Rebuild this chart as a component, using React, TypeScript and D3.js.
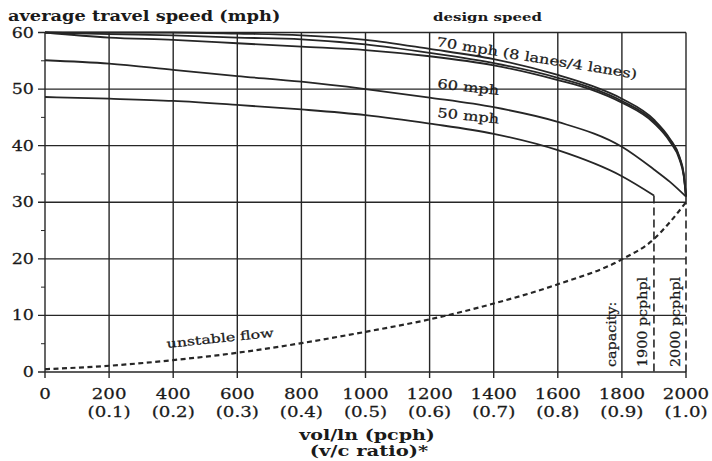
import React from "react";
import * as d3 from "d3";

// Volume per lane (pcph) at which the speed curves are sampled
const VOLUMES = [0, 200, 400, 600, 800, 1000, 1200, 1400, 1600, 1700, 1800, 1900, 1950, 1980, 1993, 2000];

// Average travel speed (mph) for each design speed
const SPEED_70_8LANES = [60, 60, 60, 59.8, 59.5, 58.7, 57.1, 55.3, 52.5, 50.7, 48.3, 44.6, 41.2, 38.0, 35.0, 31];
const SPEED_70_6LANES = [60, 59.7, 59.5, 59.1, 58.8, 57.9, 56.4, 54.6, 52.0, 50.3, 47.9, 44.3, 41.0, 37.8, 34.8, 31];
const SPEED_70_4LANES = [60, 59.1, 58.7, 58.1, 57.5, 56.9, 55.8, 54.2, 51.6, 50.0, 47.6, 44.0, 40.7, 37.5, 34.6, 31];

const VOLUMES_60 = [0, 200, 400, 600, 800, 1000, 1200, 1400, 1600, 1800, 1900, 1950, 2000];
const SPEED_60 = [55.1, 54.5, 53.4, 52.3, 51.3, 50.0, 48.5, 46.8, 44.2, 39.8, 35.8, 33.6, 31];

const VOLUMES_50 = [0, 200, 400, 600, 800, 1000, 1200, 1400, 1600, 1800, 1900];
const SPEED_50 = [48.6, 48.3, 47.9, 47.2, 46.4, 45.4, 43.9, 42.1, 39.2, 34.6, 31.2];

// Unstable (forced) flow branch
const VOLUMES_UNSTABLE = [0, 200, 400, 600, 800, 1000, 1200, 1400, 1600, 1800, 1900, 1950, 2000];
const SPEED_UNSTABLE = [0.5, 1.1, 2.1, 3.4, 5.1, 7.1, 9.3, 12.1, 15.5, 19.9, 23.5, 26.5, 30];

// Axis ticks
const X_TICKS = [0, 200, 400, 600, 800, 1000, 1200, 1400, 1600, 1800, 2000];
const VC_LABELS = ["", "(0.1)", "(0.2)", "(0.3)", "(0.4)", "(0.5)", "(0.6)", "(0.7)", "(0.8)", "(0.9)", "(1.0)"];
const Y_TICKS = [0, 10, 20, 30, 40, 50, 60];
const Y_MINOR = [5, 15, 25, 35, 45, 55];

// Capacity limits (pcphpl)
const CAPACITY_1900 = 1900;
const CAPACITY_2000 = 2000;

const INK = "#262626";
const FONT = "'DejaVu Serif', serif";

type LabelProps = {
  x: number;
  y: number;
  rotate?: number;
  sx?: number;
  size: number;
  bold?: boolean;
  anchor?: "start" | "middle" | "end";
  children: React.ReactNode;
};

// Text with a horizontally widened face
function Label({ x, y, rotate = 0, sx = 1.3, size, bold = false, anchor = "start", children }: LabelProps) {
  return (
    <text
      transform={`translate(${x},${y}) rotate(${rotate}) scale(${sx},1)`}
      fontFamily={FONT}
      fontSize={size}
      fontWeight={bold ? 700 : 400}
      textAnchor={anchor}
      fill="#1a1a1a"
      stroke="#1a1a1a"
      strokeWidth={bold ? 0 : 0.25}
    >
      {children}
    </text>
  );
}

export default function App() {
  const x = d3.scaleLinear().domain([0, 2000]).range([45, 686]);
  const y = d3.scaleLinear().domain([0, 60]).range([372, 32.5]);

  const line = (xs: number[], ys: number[]) =>
    d3
      .line<number>()
      .x((_, i) => x(xs[i]))
      .y((d) => y(d))
      .curve(d3.curveMonotoneX)(ys) ?? "";

  const end70 = SPEED_70_8LANES[SPEED_70_8LANES.length - 1];
  const end50 = SPEED_50[SPEED_50.length - 1];

  return (
    <svg
      width={712}
      height={461}
      style={{ position: "absolute", left: 0, top: 0, background: "#fff" }}
    >
      {/* horizontal grid */}
      {Y_TICKS.map((t) => (
        <line key={`h${t}`} x1={x(0) - 7} x2={x(2000)} y1={y(t)} y2={y(t)} stroke={INK} strokeWidth={1.4} />
      ))}
      {Y_MINOR.map((t) => (
        <line key={`m${t}`} x1={x(0) - 4} x2={x(0)} y1={y(t)} y2={y(t)} stroke={INK} strokeWidth={1} />
      ))}
      {/* vertical grid */}
      {X_TICKS.filter((t) => t < 2000).map((t) => (
        <line key={`v${t}`} x1={x(t)} x2={x(t)} y1={y(60)} y2={y(0) + 6} stroke={INK} strokeWidth={1.4} />
      ))}
      <line x1={x(2000)} x2={x(2000)} y1={y(60)} y2={y(end70)} stroke={INK} strokeWidth={1.4} />
      <line
        x1={x(CAPACITY_2000)}
        x2={x(CAPACITY_2000)}
        y1={y(end70)}
        y2={y(0)}
        stroke={INK}
        strokeWidth={1.6}
        strokeDasharray="8,4"
      />
      <line x1={x(2000)} x2={x(2000)} y1={y(0)} y2={y(0) + 6} stroke={INK} strokeWidth={1.4} />
      <line
        x1={x(CAPACITY_1900)}
        x2={x(CAPACITY_1900)}
        y1={y(end50)}
        y2={y(0)}
        stroke={INK}
        strokeWidth={1.6}
        strokeDasharray="8,4"
      />

      {/* speed-flow curves */}
      <g fill="none" stroke={INK} strokeWidth={1.8} strokeLinejoin="round">
        <path d={line(VOLUMES, SPEED_70_8LANES)} />
        <path d={line(VOLUMES, SPEED_70_6LANES)} />
        <path d={line(VOLUMES, SPEED_70_4LANES)} />
        <path d={line(VOLUMES_60, SPEED_60)} />
        <path d={line(VOLUMES_50, SPEED_50)} />
      </g>
      <path
        d={line(VOLUMES_UNSTABLE, SPEED_UNSTABLE)}
        fill="none"
        stroke={INK}
        strokeWidth={2.2}
        strokeDasharray="5,3.5"
      />

      {/* y tick labels */}
      {Y_TICKS.map((t) => (
        <Label key={`yl${t}`} x={34} y={y(t) + 5} size={14} sx={1.25} anchor="end">
          {t}
        </Label>
      ))}
      {/* x tick labels */}
      {X_TICKS.map((t, i) => (
        <g key={`xl${t}`}>
          <Label x={x(t)} y={399} size={14} sx={1.3} anchor="middle">
            {t}
          </Label>
          {VC_LABELS[i] && (
            <Label x={x(t)} y={417} size={14} sx={1.3} anchor="middle">
              {VC_LABELS[i]}
            </Label>
          )}
        </g>
      ))}

      {/* titles */}
      <Label x={8} y={21} size={14} sx={1.27} bold>
        average travel speed (mph)
      </Label>
      <Label x={367} y={440} size={14} sx={1.36} bold anchor="middle">
        vol/ln (pcph)
      </Label>
      <Label x={369} y={456} size={14} sx={1.4} bold anchor="middle">
        (v/c ratio)*
      </Label>
      <Label x={433} y={21} size={11} sx={1.36} bold>
        design speed
      </Label>

      {/* curve labels */}
      <Label x={436} y={46} size={13} sx={1.25} rotate={9.3}>
        70 mph (8 lanes/4 lanes)
      </Label>
      <Label x={437} y={88} size={13} sx={1.25} rotate={6.5}>
        60 mph
      </Label>
      <Label x={437} y={117} size={13} sx={1.25} rotate={6}>
        50 mph
      </Label>
      <Label x={167} y={348} size={12} sx={1.32} rotate={-6}>
        unstable flow
      </Label>

      {/* capacity labels */}
      <Label x={616} y={367} size={13} sx={1.1} rotate={-90}>
        capacity:
      </Label>
      <Label x={647} y={367} size={13} sx={1.1} rotate={-90}>
        1900 pcphpl
      </Label>
      <Label x={680} y={367} size={13} sx={1.1} rotate={-90}>
        2000 pcphpl
      </Label>
    </svg>
  );
}
